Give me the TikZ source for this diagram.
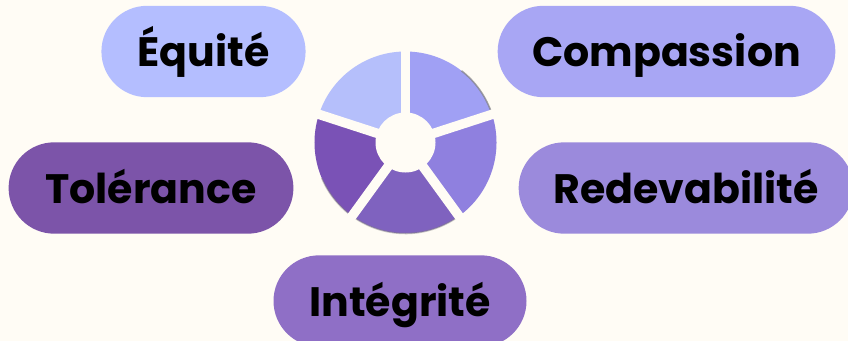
\documentclass[tikz,border=0pt]{standalone}
\usepackage{fontspec}
\setmainfont{Poppins}
\usetikzlibrary{shapes.misc}
\definecolor{fond}{HTML}{FFFCF5}
\definecolor{equite}{HTML}{B4BEFF}
\definecolor{compassion}{HTML}{A8A6F4}
\definecolor{redevabilite}{HTML}{9B8ADC}
\definecolor{integrite}{HTML}{8F6FC6}
\definecolor{tolerance}{HTML}{7C54A9}
\definecolor{secA}{HTML}{B5BFFB}
\definecolor{secB}{HTML}{A0A0F4}
\definecolor{secC}{HTML}{8F80DF}
\definecolor{secD}{HTML}{7F62BF}
\definecolor{secE}{HTML}{7A52B6}
\tikzset{
  valeur/.style={rounded rectangle, minimum height=52pt, inner sep=0pt,
    text height=17.6pt, text depth=0pt, text=black,
    font=\fontsize{23.4}{26}\selectfont\bfseries},
}
\begin{document}
\begin{tikzpicture}[x=0.02cm,y=-0.02cm]
        \clip (0,0) rectangle (848,341);
        \fill[fond] (0,0) rectangle (848,341);
        % les cinq pastilles
        \node[valeur, fill=equite, minimum width=116.2pt] (equite) at (203.5,51.5) {Équité};
        \node[valeur, fill=compassion, minimum width=192.2pt] (compassion) at (666.5,51.5) {Compassion};
        \node[valeur, fill=tolerance, minimum width=162.1pt] (tolerance) at (151,188) {Tolérance};
        \node[valeur, fill=redevabilite, minimum width=190.5pt] (redevabilite) at (686,188) {Redevabilité};
        \node[valeur, fill=integrite, minimum width=144pt] (integrite) at (400,301) {Intégrité};
        % la roue
        \foreach \a/\c in {90/secA,18/secB,-54/secC,-126/secD,-198/secE} {
            \fill[\c] (405.5,142.5) -- ++(\a:91 and -91) arc[start angle=\a, delta angle=72, x radius=91, y radius=-91] -- cycle;
        }
        \draw[line width=0.9pt, gray, opacity=0.7] (405.5,142.5) ++(52:91 and -91) arc[start angle=52, delta angle=-34, x radius=91, y radius=-91];
        \draw[line width=0.9pt, gray, opacity=0.45] (405.5,142.5) ++(-52:91 and -91) arc[start angle=-52, delta angle=-105, x radius=91, y radius=-91];
        \foreach \a in {90,18,-54,-126,-198} {
            \draw[fond, line width=5.4pt] (405.5,142.5) -- ++(\a:96 and -96);
        }
        \fill[fond] (405.5,142.5) circle[x radius=30, y radius=30];
\end{tikzpicture}
\end{document}
